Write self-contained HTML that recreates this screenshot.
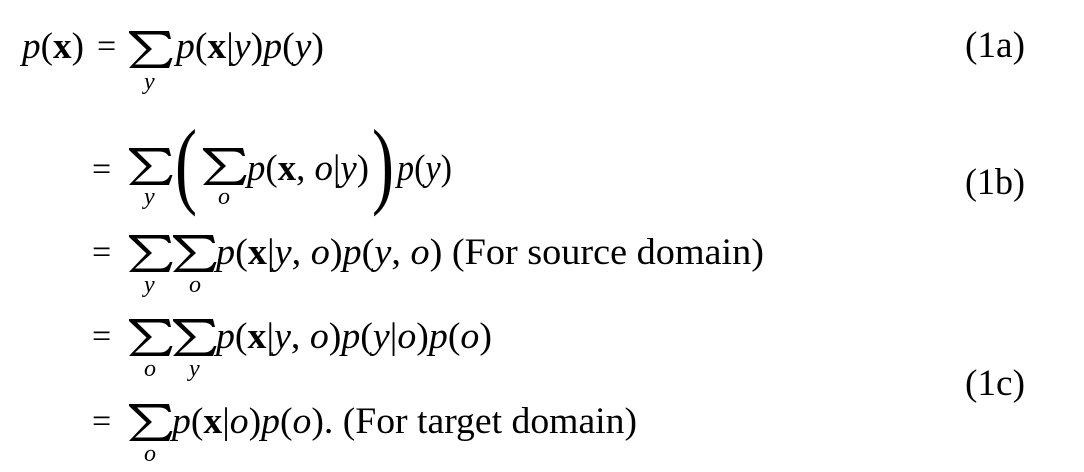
<!DOCTYPE html>
<html><head><meta charset="utf-8"><style>
html,body{margin:0;padding:0;background:#fff;}
svg{display:block;}
text{font-family:"Liberation Serif",serif;font-size:37px;fill:#000;}
.i{font-style:italic;}
.s{font-size:24px;font-style:italic;}
.e{font-size:34px;}
</style></head><body>
<svg width="1084" height="472" viewBox="0 0 1084 472">
<defs>
<path id="sig" d="M0,0 H40 L42,8 H39.5 Q37,3.5 30,3.5 H8 L23,18 L6,33.5 H31 Q38,33.5 41,27 H43.5 L40,37 H0 L17.5,18.5 L0,2 Z" fill="#000"/>
</defs>
<!-- line 1 -->
<text x="22" y="58" textLength="62" lengthAdjust="spacingAndGlyphs"><tspan class="i">p</tspan>(<tspan font-weight="bold">x</tspan>)</text>
<text class="e" x="97" y="57">=</text>
<use href="#sig" x="129" y="31"/>
<text class="s" x="144" y="89">y</text>
<text x="176" y="58" textLength="148" lengthAdjust="spacingAndGlyphs"><tspan class="i">p</tspan>(<tspan font-weight="bold">x</tspan>|<tspan class="i">y</tspan>)<tspan class="i">p</tspan>(<tspan class="i">y</tspan>)</text>
<text x="965" y="57" textLength="60" lengthAdjust="spacingAndGlyphs">(1a)</text>
<!-- line 2 -->
<text class="e" x="92" y="180">=</text>
<use href="#sig" x="129" y="148"/>
<text class="s" x="144" y="204">y</text>
<text x="175" y="196" style="font-size:96px;font-weight:normal" textLength="22" lengthAdjust="spacingAndGlyphs">(</text>
<use href="#sig" x="203" y="148"/>
<text class="s" x="218" y="204">o</text>
<text x="247" y="180" textLength="122" lengthAdjust="spacingAndGlyphs"><tspan class="i">p</tspan>(<tspan font-weight="bold">x</tspan>, <tspan class="i">o</tspan>|<tspan class="i">y</tspan>)</text>
<text x="372" y="196" style="font-size:96px" textLength="22" lengthAdjust="spacingAndGlyphs">)</text>
<text x="397" y="180" textLength="55" lengthAdjust="spacingAndGlyphs"><tspan class="i">p</tspan>(<tspan class="i">y</tspan>)</text>
<text x="965" y="194" textLength="60" lengthAdjust="spacingAndGlyphs">(1b)</text>
<!-- line 3 -->
<text class="e" x="92" y="263">=</text>
<use href="#sig" x="129" y="235"/>
<use href="#sig" x="173" y="235"/>
<text class="s" x="144" y="292">y</text>
<text class="s" x="189" y="292">o</text>
<text x="216" y="264" textLength="548" lengthAdjust="spacingAndGlyphs"><tspan class="i">p</tspan>(<tspan font-weight="bold">x</tspan>|<tspan class="i">y</tspan>, <tspan class="i">o</tspan>)<tspan class="i">p</tspan>(<tspan class="i">y</tspan>, <tspan class="i">o</tspan>) (For source domain)</text>
<!-- line 4 -->
<text class="e" x="92" y="347">=</text>
<use href="#sig" x="129" y="319"/>
<use href="#sig" x="173" y="319"/>
<text class="s" x="144" y="376">o</text>
<text class="s" x="189" y="376">y</text>
<text x="216" y="348" textLength="276" lengthAdjust="spacingAndGlyphs"><tspan class="i">p</tspan>(<tspan font-weight="bold">x</tspan>|<tspan class="i">y</tspan>, <tspan class="i">o</tspan>)<tspan class="i">p</tspan>(<tspan class="i">y</tspan>|<tspan class="i">o</tspan>)<tspan class="i">p</tspan>(<tspan class="i">o</tspan>)</text>
<!-- line 5 -->
<text class="e" x="92" y="432">=</text>
<use href="#sig" x="129" y="404"/>
<text class="s" x="144" y="461">o</text>
<text x="172" y="433" textLength="465" lengthAdjust="spacingAndGlyphs"><tspan class="i">p</tspan>(<tspan font-weight="bold">x</tspan>|<tspan class="i">o</tspan>)<tspan class="i">p</tspan>(<tspan class="i">o</tspan>). (For target domain)</text>
<text x="965" y="395" textLength="60" lengthAdjust="spacingAndGlyphs">(1c)</text>
</svg>
</body></html>
